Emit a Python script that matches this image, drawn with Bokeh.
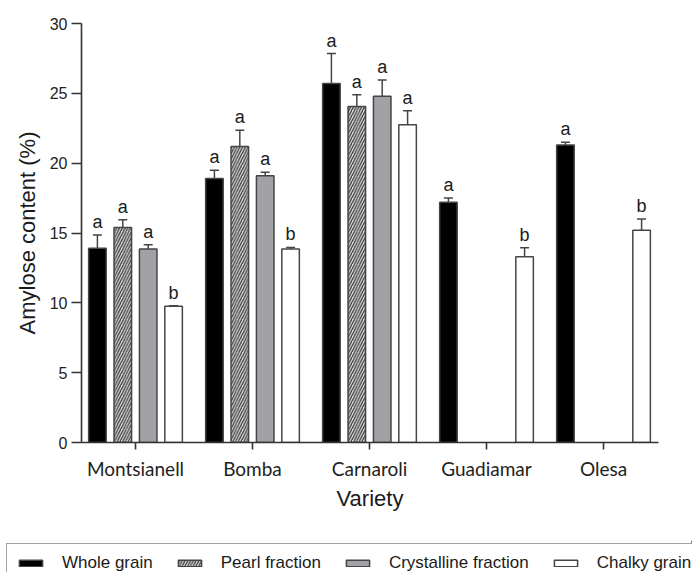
from bokeh.plotting import figure
from bokeh.layouts import column
from bokeh.models import (ColumnDataSource, Range1d, FixedTicker, Legend, LegendItem,
                          Whisker, TeeHead)
from bokeh.core.properties import value
from bokeh.embed import file_html
from bokeh.resources import INLINE

varieties = ["Montsianell", "Bomba", "Carnaroli", "Guadiamar", "Olesa"]
series_names = ["Whole grain", "Pearl fraction", "Crystalline fraction", "Chalky grain"]

whole = [13.9, 18.9, 25.7, 17.2, 21.3]
whole_err = [0.95, 0.6, 2.15, 0.3, 0.2]
whole_letters = ["a", "a", "a", "a", "a"]

pearl = [15.4, 21.2, 24.05, None, None]
pearl_err = [0.55, 1.15, 0.85, None, None]
pearl_letters = ["a", "a", "a", None, None]

crystalline = [13.85, 19.1, 24.8, None, None]
crystalline_err = [0.3, 0.25, 1.15, None, None]
crystalline_letters = ["a", "a", "a", None, None]

chalky = [9.75, 13.85, 22.75, 13.3, 15.2]
chalky_err = [0.05, 0.12, 1.0, 0.65, 0.8]
chalky_letters = ["b", "b", "a", "b", "b"]

y_ticks = [0, 5, 10, 15, 20, 25, 30]

series = [
    (whole, whole_err, whole_letters),
    (pearl, pearl_err, pearl_letters),
    (crystalline, crystalline_err, crystalline_letters),
    (chalky, chalky_err, chalky_letters),
]
edge = "#454545"
styles = [
    dict(fill_color="#000000"),
    dict(fill_color="#dedede", hatch_pattern="/", hatch_color="#3a3a3a", hatch_scale=5.5, hatch_weight=1.3),
    dict(fill_color="#a2a2a6"),
    dict(fill_color="#ffffff"),
]
step = 0.217
bar_w = 0.15
offsets = [-1.5 * step, -0.5 * step, 0.5 * step, 1.5 * step]

p = figure(width=684, height=540, output_backend="svg", toolbar_location=None,
           x_range=Range1d(-0.4615, 4.47), y_range=Range1d(0, 30),
           min_border_left=81, min_border_right=26, min_border_top=23, min_border_bottom=98)
p.outline_line_color = None
p.xgrid.visible = False
p.ygrid.visible = False
p.background_fill_color = "white"

renderers = []
for (vals, errs, letters), off, st in zip(series, offsets, styles):
    xs, tops, uppers, labs = [], [], [], []
    for i, (v, e, l) in enumerate(zip(vals, errs, letters)):
        if v is None:
            continue
        xs.append(i + off)
        tops.append(v)
        uppers.append(v + e)
        labs.append(l)
    src = ColumnDataSource(dict(x=xs, top=tops, upper=uppers, lab=labs))
    r = p.vbar(x="x", top="top", bottom=0, width=bar_w, source=src,
               line_color=edge, line_width=1.5, **st)
    renderers.append(r)
    w = Whisker(base="x", lower="top", upper="upper", source=src, dimension="height",
                line_color=edge, line_width=1.5,
                upper_head=TeeHead(size=9, line_color=edge, line_width=1.5),
                lower_head=None)
    p.add_layout(w)
    p.text(x="x", y="upper", text="lab", source=src, text_align="center",
           text_baseline="bottom", y_offset=-3, text_font=value("Liberation Sans"),
           text_font_size="18px", text_color="#1a1a1a")

# axes
axis_color = "#333333"
p.xaxis.ticker = FixedTicker(ticks=list(range(len(varieties))))
p.xaxis.major_label_overrides = {i: v for i, v in enumerate(varieties)}
p.xaxis.axis_label = "Variety"
p.xaxis.major_label_text_font = "Lato"
p.xaxis.major_label_text_font_size = "19px"
p.xaxis.major_label_text_color = "#222222"
p.xaxis.major_label_standoff = 7
p.xaxis.major_tick_out = 7
p.xaxis.major_tick_in = 0
p.xaxis.minor_tick_line_color = None
p.xaxis.axis_label_standoff = 3

p.yaxis.ticker = FixedTicker(ticks=y_ticks)
p.yaxis.axis_label = "Amylose content (%)"
p.yaxis.major_label_text_font = "Liberation Sans"
p.yaxis.major_label_text_font_size = "16px"
p.yaxis.major_label_text_color = "#222222"
p.yaxis.major_label_standoff = 4
p.yaxis.major_tick_out = 10
p.yaxis.major_tick_in = 0
p.yaxis.minor_tick_line_color = None
p.yaxis.axis_label_standoff = 7

for ax in (p.xaxis, p.yaxis):
    ax.axis_line_color = axis_color
    ax.axis_line_width = 1.6
    ax.major_tick_line_color = axis_color
    ax.major_tick_line_width = 1.6
    ax.axis_label_text_font = "Liberation Sans"
    ax.axis_label_text_font_size = "22px"
    ax.axis_label_text_font_style = "normal"
    ax.axis_label_text_color = "#1a1a1a"

# legend strip (separate figure so the box can be cut by the page edge like the original)
p2 = figure(width=692, height=32, output_backend="svg", toolbar_location=None,
            x_axis_type=None, y_axis_type=None, x_range=Range1d(0, 1), y_range=Range1d(0, 1),
            min_border=0, min_border_left=0, min_border_right=0, min_border_top=0, min_border_bottom=0)
p2.outline_line_color = None
p2.xgrid.visible = False
p2.ygrid.visible = False
for fig in (p, p2):
    try:
        fig.frame_align = False
    except Exception:
        pass
dummy = []
for st in styles:
    # one placeholder bar kept outside the visible range, only so the legend can draw its swatch
    dummy.append(p2.vbar(x=[5], top=[1], width=0.1, line_color=edge, line_width=1.5, **st))

legend = Legend(items=[LegendItem(label=n, renderers=[r]) for n, r in zip(series_names, dummy)],
                orientation="horizontal", location=(6, -11))
legend.label_text_font = "Liberation Sans"
legend.label_text_font_size = "17px"
legend.label_text_color = "#1a1a1a"
legend.glyph_width = 29
legend.glyph_height = 8
legend.label_standoff = 17
legend.spacing = 22
legend.padding = 9
legend.margin = 0
legend.label_height = 8
legend.border_line_color = "#444444"
legend.border_line_width = 1.5
legend.background_fill_color = "white"
legend.background_fill_alpha = 1.0
p2.add_layout(legend, "center")

layout = column(p, p2, spacing=0)
open("out.html", "w").write(file_html(layout, INLINE))
